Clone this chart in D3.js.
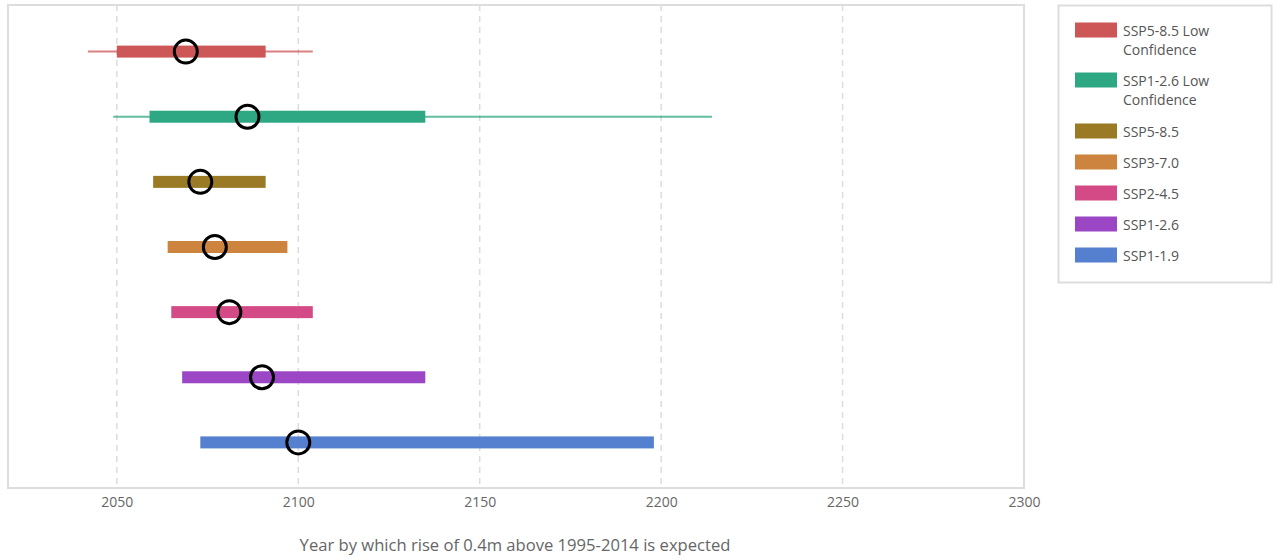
<!DOCTYPE html>
<html>
<head>
<meta charset="utf-8">
<script src="https://cdn.jsdelivr.net/npm/d3@7"></script>
<style>
  html, body { margin: 0; padding: 0; background: #fff; }
  svg { display: block; font-family: "Open Sans", sans-serif; }
</style>
</head>
<body>
<svg id="chart" width="1277" height="560"></svg>
<script>
// Scenarios, top to bottom
const scenarios = ["SSP5-8.5 Low Confidence", "SSP1-2.6 Low Confidence", "SSP5-8.5", "SSP3-7.0", "SSP2-4.5", "SSP1-2.6", "SSP1-1.9"];
const colors = ["#cd5656", "#2ea883", "#9a7a24", "#cc843f", "#d44a86", "#9b46c4", "#5580cf"];
// Likely range (thick bar)
const likelyLow = [2050, 2059, 2060, 2064, 2065, 2068, 2073];
const likelyHigh = [2091, 2135, 2091, 2097, 2104, 2135, 2198];
// Wider range (thin whisker), only for low-confidence scenarios
const wideLow = [2042, 2049, null, null, null, null, null];
const wideHigh = [2104, 2214, null, null, null, null, null];
// Median year
const median = [2069, 2086, 2073, 2077, 2081, 2090, 2100];
const xTicks = [2050, 2100, 2150, 2200, 2250, 2300];
const axisTitle = "Year by which rise of 0.4m above 1995-2014 is expected";

const svg = d3.select("#chart");
const plot = { left: 8, right: 1024, top: 5, bottom: 488 };

const x = d3.scaleLinear().domain([2020, 2300]).range([plot.left, plot.right]);
const y = d3.scalePoint().domain(scenarios).range([plot.top + 1, plot.bottom]).padding(0.7);

// Vertical dashed grid
svg.append("g")
  .selectAll("line")
  .data(xTicks.slice(0, -1))
  .join("line")
  .attr("x1", d => x(d)).attr("x2", d => x(d))
  .attr("y1", plot.top).attr("y2", plot.bottom)
  .attr("stroke", "#dcdcdc")
  .attr("stroke-width", 1.5)
  .attr("stroke-dasharray", "6,5");

// Plot frame
svg.append("rect")
  .attr("x", plot.left).attr("y", plot.top)
  .attr("width", plot.right - plot.left).attr("height", plot.bottom - plot.top)
  .attr("fill", "none")
  .attr("stroke", "#dddddd")
  .attr("stroke-width", 2);

// X axis labels
const xAxis = d3.axisBottom(x).tickValues(xTicks).tickSize(0).tickPadding(9).tickFormat(d3.format("d"));
const gx = svg.append("g").attr("transform", `translate(0,${plot.bottom})`).call(xAxis);
gx.select(".domain").remove();
gx.selectAll("text")
  .attr("font-family", "'Open Sans', sans-serif")
  .attr("font-size", 14)
  .attr("fill", "#666");

// Axis title
svg.append("text")
  .attr("x", 515)
  .attr("y", 551)
  .attr("text-anchor", "middle")
  .attr("font-size", 16.6)
  .attr("fill", "#666")
  .text(axisTitle);

const rows = scenarios.map((s, i) => ({
  name: s, color: colors[i],
  lo: likelyLow[i], hi: likelyHigh[i],
  wlo: wideLow[i], whi: wideHigh[i],
  med: median[i]
}));

const g = svg.append("g");

// Thin whiskers
g.selectAll("line.wide")
  .data(rows.filter(r => r.wlo != null))
  .join("line")
  .attr("class", "wide")
  .attr("x1", d => x(d.wlo)).attr("x2", d => x(d.whi))
  .attr("y1", d => y(d.name)).attr("y2", d => y(d.name))
  .attr("stroke", d => d.color)
  .attr("stroke-opacity", 0.75)
  .attr("stroke-width", 2);

// Likely-range bars
const barH = 12;
g.selectAll("rect.likely")
  .data(rows)
  .join("rect")
  .attr("class", "likely")
  .attr("x", d => x(d.lo))
  .attr("width", d => x(d.hi) - x(d.lo))
  .attr("y", d => y(d.name) - barH / 2)
  .attr("height", barH)
  .attr("fill", d => d.color);

// Median markers
g.selectAll("circle.median")
  .data(rows)
  .join("circle")
  .attr("class", "median")
  .attr("cx", d => x(d.med))
  .attr("cy", d => y(d.name))
  .attr("r", 11.5)
  .attr("fill", "none")
  .attr("stroke", "#000")
  .attr("stroke-width", 3);

// Legend
const legend = svg.append("g");
legend.append("rect")
  .attr("x", 1058.5).attr("y", 5.5)
  .attr("width", 213).attr("height", 277)
  .attr("fill", "#fff")
  .attr("stroke", "#dddddd")
  .attr("stroke-width", 2);

const legendY = [30, 80, 131, 162, 193, 224, 255];
const item = legend.selectAll("g.item")
  .data(rows)
  .join("g")
  .attr("class", "item")
  .attr("transform", (d, i) => `translate(1075,${legendY[i]})`);

item.append("rect")
  .attr("x", 0).attr("y", -7.5)
  .attr("width", 42).attr("height", 15)
  .attr("fill", d => d.color);

item.each(function(d) {
  const words = d.name.split(" Low ");
  const lines = words.length > 1 ? [words[0] + " Low", words[1]] : [d.name];
  const t = d3.select(this).append("text")
    .attr("x", 48)
    .attr("y", 5.5)
    .attr("font-size", 14)
    .attr("fill", "#555");
  lines.forEach((ln, k) => {
    t.append("tspan").attr("x", 48).attr("dy", k === 0 ? 0 : 19).text(ln);
  });
});
</script>
</body>
</html>
